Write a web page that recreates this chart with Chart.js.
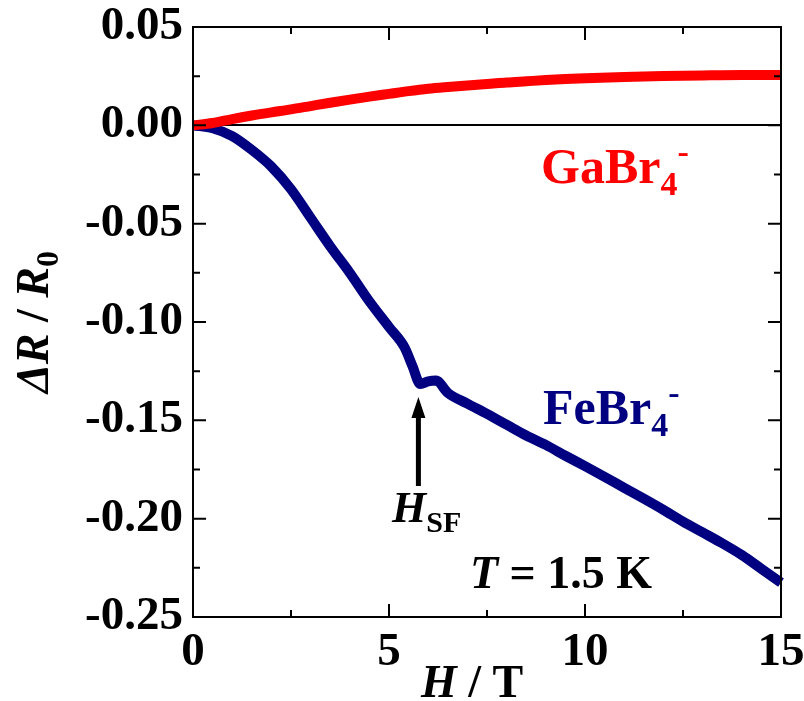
<!DOCTYPE html>
<html>
<head>
<meta charset="utf-8">
<script src="https://cdn.jsdelivr.net/npm/chart.js@4.4.1/dist/chart.umd.min.js"></script>
<style>
  body { margin: 0; background: #fff; }
  #wrap { width: 804px; height: 701px; }
</style>
</head>
<body>
<div id="wrap"><canvas id="mr" width="804" height="701"></canvas></div>
<script>
// GaBr4- salt (red)
const fieldGa = [0, 0.5, 1, 1.5, 2, 2.5, 3, 3.5, 4, 4.5, 5, 5.5, 6, 6.5, 7, 7.5, 8, 8.5, 9, 9.5,
                 10, 11, 12, 13, 14, 15];
const ratioGa = [0, 0.0012, 0.0032, 0.005, 0.0066, 0.0081, 0.0098, 0.0115, 0.0131, 0.0146, 0.016,
                 0.0174, 0.0186, 0.0195, 0.0203, 0.021, 0.0218, 0.0224, 0.023, 0.0235,
                 0.0239, 0.0246, 0.0251, 0.0254, 0.0256, 0.0256];

// FeBr4- salt (navy), with the spin-flop dip near 5.8 T
const fieldFe = [0, 0.5, 1, 1.5, 2, 2.5, 3, 3.5, 4, 4.5, 5, 5.4, 5.6, 5.8, 6.0, 6.2, 6.5, 7.0, 7.5,
                 8, 8.5, 9, 9.5, 10, 10.5, 11, 11.5, 12, 12.5, 13, 13.5, 14, 14.5, 15];
const ratioFe = [0, -0.0015, -0.0055, -0.0125, -0.021, -0.0325, -0.047, -0.0615, -0.075, -0.0895, -0.1025,
                 -0.113, -0.1225, -0.1315, -0.1302, -0.1298, -0.136, -0.1415, -0.1467,
                 -0.1522, -0.1577, -0.1625, -0.168, -0.1733, -0.1787, -0.1843, -0.1898, -0.1955, -0.2015,
                 -0.207, -0.2125, -0.2185, -0.2255, -0.2325];

const xMajor = [0, 5, 10, 15];
const xMinor = [2.5, 7.5, 12.5];
const yMajor = [0.05, 0, -0.05, -0.10, -0.15, -0.20, -0.25];
const yMinor = [0.025, -0.025, -0.075, -0.125, -0.175, -0.225];

const SERIF = "'Liberation Serif', 'Times New Roman', serif";

function toPoints(xs, ys) {
    return xs.map((x, i) => ({ x: x, y: ys[i] }));
}

// draws a run of text pieces, each with its own font and baseline shift
function drawRun(ctx, x, y, parts, color) {
    ctx.fillStyle = color;
    ctx.textAlign = 'left';
    ctx.textBaseline = 'alphabetic';
    let cx = x;
    parts.forEach(p => {
        ctx.font = p.font;
        ctx.fillText(p.t, cx, y + (p.dy || 0));
        cx += ctx.measureText(p.t).width;
    });
}

function runWidth(ctx, parts) {
    let w = 0;
    parts.forEach(p => { ctx.font = p.font; w += ctx.measureText(p.t).width; });
    return w;
}

const framePlugin = {
    id: 'frame',
    afterDraw(chart) {
        const ctx = chart.ctx;
        const a = chart.chartArea;
        const xs = chart.scales.x;
        const ys = chart.scales.y;
        ctx.save();
        ctx.strokeStyle = '#000';
        ctx.lineWidth = 2;
        ctx.strokeRect(a.left, a.top, a.right - a.left, a.bottom - a.top);

        // inside ticks on all four sides
        ctx.beginPath();
        const tickX = (v, len) => {
            const px = xs.getPixelForValue(v);
            ctx.moveTo(px, a.bottom); ctx.lineTo(px, a.bottom - len);
            ctx.moveTo(px, a.top); ctx.lineTo(px, a.top + len);
        };
        const tickY = (v, len) => {
            const py = ys.getPixelForValue(v);
            ctx.moveTo(a.left, py); ctx.lineTo(a.left + len, py);
            ctx.moveTo(a.right, py); ctx.lineTo(a.right - len, py);
        };
        xMajor.forEach(v => tickX(v, 13));
        xMinor.forEach(v => tickX(v, 7));
        yMajor.forEach(v => tickY(v, 13));
        yMinor.forEach(v => tickY(v, 7));
        ctx.stroke();

        // series labels
        const big = 'bold 50px ' + SERIF;
        const small = 'bold 34px ' + SERIF;
        drawRun(ctx, 541, 183, [
            { t: 'GaBr', font: big },
            { t: '4', font: small, dy: 12 },
            { t: '-', font: small, dy: -20 }
        ], '#ff0000');
        drawRun(ctx, 543, 424, [
            { t: 'FeBr', font: big },
            { t: '4', font: small, dy: 12 },
            { t: '-', font: small, dy: -20 }
        ], '#000080');

        drawRun(ctx, 470, 588, [
            { t: 'T', font: 'italic bold 46px ' + SERIF },
            { t: ' = 1.5 K', font: 'bold 46px ' + SERIF }
        ], '#000');

        drawRun(ctx, 392, 522, [
            { t: 'H', font: 'italic bold 44px ' + SERIF },
            { t: 'SF', font: 'bold 30px ' + SERIF, dy: 10 }
        ], '#000');

        // arrow pointing at the spin-flop field
        const ax = xs.getPixelForValue(5.75);
        ctx.lineWidth = 5;
        ctx.beginPath();
        ctx.moveTo(ax, 486);
        ctx.lineTo(ax, 412);
        ctx.stroke();
        ctx.fillStyle = '#000';
        ctx.beginPath();
        ctx.moveTo(ax, 397);
        ctx.lineTo(ax - 7, 418);
        ctx.lineTo(ax + 7, 418);
        ctx.closePath();
        ctx.fill();

        // axis titles
        const xt = [
            { t: 'H', font: 'italic bold 46px ' + SERIF },
            { t: ' / T', font: 'bold 46px ' + SERIF }
        ];
        drawRun(ctx, 472 - runWidth(ctx, xt) / 2, 697, xt, '#000');

        const yt = [
            { t: '\u0394R', font: 'italic bold 46px ' + SERIF },
            { t: ' / ', font: 'bold 46px ' + SERIF },
            { t: 'R', font: 'italic bold 46px ' + SERIF },
            { t: '0', font: 'bold 32px ' + SERIF, dy: 10 }
        ];
        ctx.translate(48, (a.top + a.bottom) / 2);
        ctx.rotate(-Math.PI / 2);
        drawRun(ctx, -runWidth(ctx, yt) / 2, 0, yt, '#000');
        ctx.restore();
    }
};

new Chart(document.getElementById('mr'), {
    type: 'line',
    data: {
        datasets: [
            {
                label: 'GaBr4-',
                data: toPoints(fieldGa, ratioGa),
                borderColor: '#ff0000',
                borderWidth: 10,
                pointRadius: 0,
                cubicInterpolationMode: 'monotone',
                clip: false
            },
            {
                label: 'FeBr4-',
                data: toPoints(fieldFe, ratioFe),
                borderColor: '#000080',
                borderWidth: 10,
                pointRadius: 0,
                cubicInterpolationMode: 'monotone',
                clip: false
            }
        ]
    },
    options: {
        responsive: false,
        animation: false,
        layout: { padding: { top: 27, right: 23, left: 0, bottom: 0 } },
        plugins: {
            legend: { display: false },
            tooltip: { enabled: false }
        },
        scales: {
            x: {
                type: 'linear',
                min: 0,
                max: 15,
                afterFit(scale) {
                    scale.height = 84;
                    scale.paddingLeft = 0;
                    scale.paddingRight = 0;
                },
                border: { display: false },
                grid: { display: false },
                ticks: {
                    stepSize: 5,
                    padding: 0,
                    color: '#000',
                    maxRotation: 0,
                    font: { family: SERIF, weight: 'bold', size: 47 },
                    callback: v => String(v)
                }
            },
            y: {
                min: -0.25,
                max: 0.05,
                afterFit(scale) {
                    scale.width = 193;
                    scale.paddingTop = 0;
                    scale.paddingBottom = 0;
                },
                border: { display: false },
                grid: {
                    drawTicks: false,
                    lineWidth: 2,
                    color: c => (c.tick && Math.abs(c.tick.value) < 1e-9) ? '#000' : 'rgba(0,0,0,0)'
                },
                ticks: {
                    stepSize: 0.05,
                    padding: 10,
                    color: '#000',
                    font: { family: SERIF, weight: 'bold', size: 47 },
                    callback: v => (Math.abs(v) < 1e-9 ? 0 : v).toFixed(2)
                }
            }
        }
    },
    plugins: [framePlugin]
});
</script>
</body>
</html>
